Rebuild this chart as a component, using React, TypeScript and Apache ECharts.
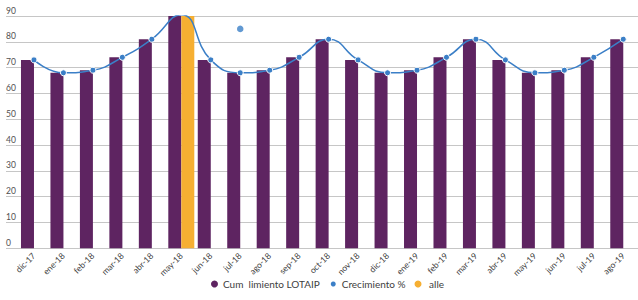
import React, { useEffect, useRef } from "react";
import * as echarts from "echarts";

const categories = [
  "dic-17", "ene-18", "feb-18", "mar-18", "abr-18", "may-18", "jun-18",
  "jul-18", "ago-18", "sep-18", "oct-18", "nov-18", "dic-18", "ene-19",
  "feb-19", "mar-19", "abr-19", "may-19", "jun-19", "jul-19", "ago-19",
];
const cumplimiento = [73, 68, 69, 74, 81, 90.5, 73, 68, 69, 74, 81, 73, 68, 69, 74, 81, 73, 68, 69, 74, 81];
const crecimientoLine = [73, 68, 69, 74, 81, 90.5, 73, 68, 69, 74, 81, 73, 68, 69, 74, 81, 73, 68, 69, 74, 81];
const crecimientoDot = ["-", "-", "-", "-", "-", "-", "-", 85, "-", "-", "-", "-", "-", "-", "-", "-", "-", "-", "-", "-", "-"];
const detalle = ["-", "-", "-", "-", "-", 90.5, "-", "-", "-", "-", "-", "-", "-", "-", "-", "-", "-", "-", "-", "-", "-"];
const yTicks = { min: 0, max: 90, interval: 10 };

const names = ["Cum  limiento LOTAIP", "Crecimiento %", " alle"];

const PURPLE = "#5E2461";
const BLUE = "#3B7FC7";
const ORANGE = "#F6AF32";
const FONT = "Lato, 'DejaVu Sans', sans-serif";

export default function App() {
  const ref = useRef<HTMLDivElement>(null);
  useEffect(() => {
    if (!ref.current) return;
    const chart = echarts.init(ref.current, null, { renderer: "svg" });
    const top = 16;
    const bottom = 51.7;
    chart.setOption({
      animation: false,
      textStyle: { fontFamily: FONT },
      grid: [
        { left: 6, right: 0, top, bottom },
        { left: 19.25, width: 619.5, top, bottom },
      ],
      xAxis: [
        { type: "value", gridIndex: 0, show: false, min: 0, max: 1 },
        {
          type: "category",
          gridIndex: 1,
          data: categories,
          boundaryGap: true,
          axisLine: { show: false },
          axisTick: { show: false },
          axisLabel: {
            rotate: 45,
            interval: 0,
            margin: 6,
            fontSize: 8.5,
            color: "#404040",
            fontFamily: FONT,
          },
        },
      ],
      yAxis: [
        {
          type: "value",
          gridIndex: 0,
          min: yTicks.min,
          max: yTicks.max,
          interval: yTicks.interval,
          axisLine: { show: false },
          axisTick: { show: false },
          splitLine: { show: true, lineStyle: { color: "#C6C6C6", width: 1 } },
          axisLabel: {
            inside: true,
            margin: 0,
            align: "left",
            verticalAlign: "bottom",
            padding: [0, 0, 1, 0],
            fontSize: 8.5,
            color: "#505050",
            fontFamily: FONT,
          },
        },
        {
          type: "value",
          gridIndex: 1,
          min: yTicks.min,
          max: yTicks.max,
          interval: yTicks.interval,
          show: false,
        },
      ],
      legend: {
        bottom: 6,
        left: 206,
        icon: "circle",
        itemWidth: 7,
        itemHeight: 7,
        itemGap: 9,
        textStyle: { fontSize: 10, color: "#404040", fontFamily: FONT },
        data: names,
      },
      series: [
        {
          name: names[0],
          type: "bar",
          xAxisIndex: 1,
          yAxisIndex: 1,
          data: cumplimiento,
          barWidth: 13,
          barGap: "0%",
          itemStyle: { color: PURPLE },
        },
        {
          name: names[2],
          type: "bar",
          xAxisIndex: 1,
          yAxisIndex: 1,
          data: detalle,
          barWidth: 13,
          barGap: "0%",
          itemStyle: { color: ORANGE },
        },
        {
          name: names[1],
          type: "line",
          xAxisIndex: 1,
          yAxisIndex: 1,
          data: crecimientoLine,
          smooth: true,
          clip: true,
          symbol: "circle",
          symbolSize: 6,
          showAllSymbol: true,
          lineStyle: { color: BLUE, width: 1.5 },
          itemStyle: { color: BLUE, borderColor: "#ffffff", borderWidth: 1 },
          z: 5,
        },
        {
          name: names[1],
          type: "scatter",
          xAxisIndex: 1,
          yAxisIndex: 1,
          data: crecimientoDot,
          symbol: "circle",
          symbolSize: 6.5,
          itemStyle: { color: BLUE },
          z: 6,
        },
      ],
    });
    return () => chart.dispose();
  }, []);
  return (
    <div
      ref={ref}
      style={{ position: "fixed", left: 0, top: 0, width: 638, height: 300, background: "#fff" }}
    />
  );
}
